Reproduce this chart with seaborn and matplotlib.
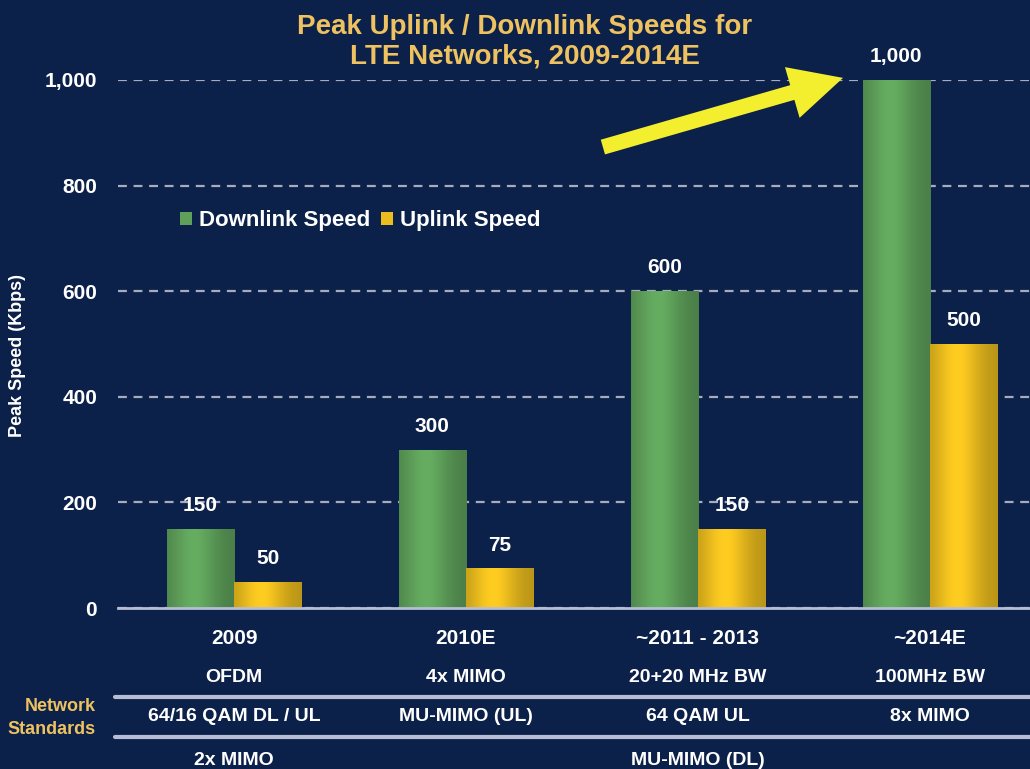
import numpy as np
import pandas as pd
import matplotlib
matplotlib.use('Agg')
import matplotlib.pyplot as plt
import seaborn as sns
from matplotlib.colors import to_rgb

# ==== data ====
periods = ['2009', '2010E', '~2011 - 2013', '~2014E']
downlink = [150, 300, 600, 1000]
uplink = [50, 75, 150, 500]
tech_row1 = ['OFDM', '4x MIMO', '20+20 MHz BW', '100MHz BW']
tech_row2 = ['64/16 QAM DL / UL', 'MU-MIMO (UL)', '64 QAM UL', '8x MIMO']
tech_row3 = ['2x MIMO', '', 'MU-MIMO (DL)', '']
yticks = [0, 200, 400, 600, 800, 1000]

df = pd.DataFrame({
    'period': periods * 2,
    'speed': downlink + uplink,
    'series': ['Downlink Speed'] * 4 + ['Uplink Speed'] * 4,
})

bg = '#0c2149'
green = '#5ea05a'
yellow = '#ecbd1e'
gold = '#eec260'
line_col = '#b8bdd6'

sns.set_style('dark')
plt.rcParams['font.family'] = ['Liberation Sans', 'DejaVu Sans']
plt.rcParams['font.weight'] = 'bold'

fig = plt.figure(figsize=(10.3, 7.69), dpi=100, facecolor=bg)
ax = fig.add_axes([118 / 1030, 1 - 608 / 769, 928 / 1030, 528 / 769])
ax.set_facecolor(bg)

sns.barplot(data=df, x='period', y='speed', hue='series', palette=[green, yellow],
            width=0.58, saturation=1, edgecolor='none', ax=ax)

# cylinder-like shading on bars
def shade(patch, base):
    x0, y0 = patch.get_x(), patch.get_y()
    w, h = patch.get_width(), patch.get_height()
    if h <= 0:
        return
    t = np.linspace(0, 1, 64)
    prof = 0.78 + 0.30 * np.exp(-((t - 0.4) / 0.35) ** 2)
    rgb = np.clip(np.array(to_rgb(base))[None, :] * prof[:, None], 0, 1)
    im = ax.imshow(rgb[None, :, :], extent=[x0, x0 + w, y0, y0 + h],
                   aspect='auto', zorder=patch.get_zorder() + 0.1)
    im.set_clip_path(patch)

for cont, col in zip(ax.containers, [green, yellow]):
    for p in cont.patches:
        shade(p, col)
    ax.bar_label(cont, labels=[f'{v:,.0f}' for v in cont.datavalues],
                 padding=10, color='white', fontsize=15, fontweight='bold')

ax.set_xlim(-0.5, 3.5)
ax.set_ylim(0, 1000)

# axes styling
for s in ['top', 'right', 'left']:
    ax.spines[s].set_visible(False)
ax.spines['bottom'].set_color(line_col)
ax.spines['bottom'].set_linewidth(2)
ax.set_yticks(yticks)
ax.set_yticklabels([f'{v:,}' for v in yticks])
ax.tick_params(axis='y', length=0, pad=15, labelcolor='white', labelsize=15)
ax.yaxis.grid(True, linestyle=(0, (4, 3)), color='#a6abc2', linewidth=1.6)
ax.xaxis.grid(False)
ax.set_axisbelow(True)

ax.set_xticks(range(len(periods)))
ax.set_xticklabels(periods)
ax.tick_params(axis='x', which='major', length=0, pad=15, labelcolor='white', labelsize=15)
ax.set_xticks(np.arange(-0.5, 4, 1), minor=True)
ax.tick_params(axis='x', which='minor', length=8, width=2, color=line_col, direction='out')
ax.set_xlabel('')
ax.set_ylabel('')

# legend
handles, labels = ax.get_legend_handles_labels()
ax.legend(handles, labels, loc='center left', bbox_to_anchor=(0.045, 0.733), ncol=2,
          frameon=False, handlelength=0.55, handleheight=0.55, handletextpad=0.3,
          columnspacing=0.5, labelcolor='white', prop={'weight': 'bold', 'size': 16})

# titles and axis label
fig.text(525 / 1030, 1 - 42 / 769, 'Peak Uplink / Downlink Speeds for\nLTE Networks, 2009-2014E',
         ha='center', va='center', color=gold, fontsize=20, fontweight='bold', linespacing=1.2)
fig.text(18 / 1030, 1 - 355 / 769, 'Peak Speed (Kbps)', rotation=90, ha='center', va='center',
         color='white', fontsize=13, fontweight='bold')

# arrow pointing at 1,000
ax.annotate('', xy=(2.625, 1004), xytext=(1.59, 873), annotation_clip=False,
            arrowprops=dict(facecolor='#f4ef2e', edgecolor='none', width=11,
                            headwidth=38, headlength=38, shrink=0))

# table of technologies under the chart
trans = ax.get_xaxis_transform()
for i in range(len(periods)):
    ax.text(i, -0.131, tech_row1[i], transform=trans, ha='center', va='center',
            color='white', fontsize=14, fontweight='bold', clip_on=False)
    ax.text(i, -0.206, tech_row2[i], transform=trans, ha='center', va='center',
            color='white', fontsize=14, fontweight='bold', clip_on=False)
    ax.text(i, -0.288, tech_row3[i], transform=trans, ha='center', va='center',
            color='white', fontsize=14, fontweight='bold', clip_on=False)

for yp in [697, 737]:
    fig.add_artist(plt.Line2D([115 / 1030, 1], [1 - yp / 769] * 2, color=line_col, linewidth=3))

fig.text(96 / 1030, 1 - 718 / 769, 'Network\nStandards', ha='right', va='center',
         color=gold, fontsize=13, fontweight='bold', linespacing=1.5)

fig.savefig('out.png', dpi=100, facecolor=bg)
